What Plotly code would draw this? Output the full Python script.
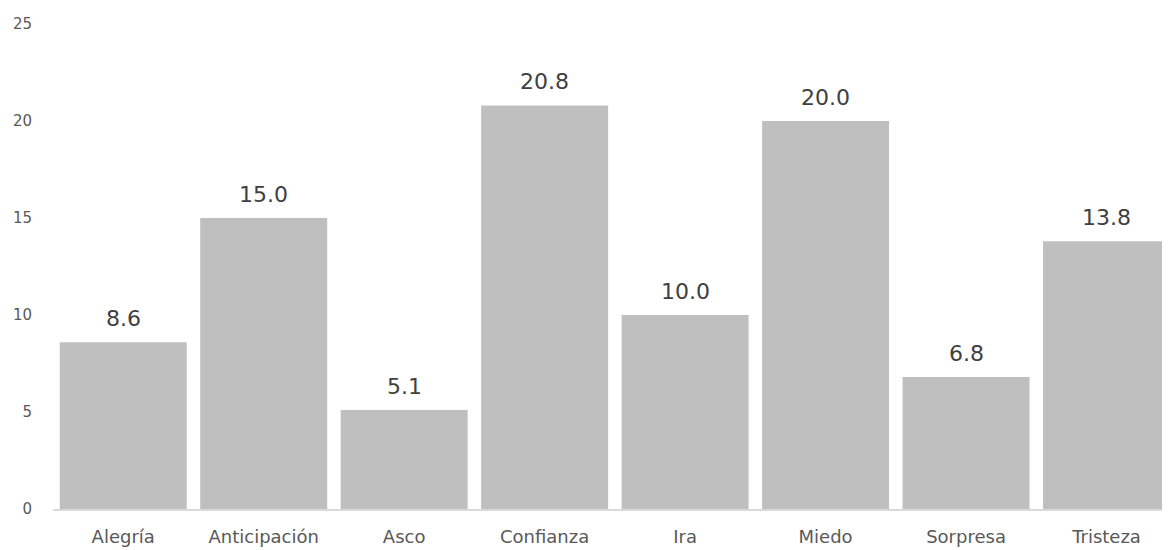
import plotly.graph_objects as go

categories = ["Alegría", "Anticipación", "Asco", "Confianza", "Ira", "Miedo", "Sorpresa", "Tristeza"]
values = [8.6, 15.0, 5.1, 20.8, 10.0, 20.0, 6.8, 13.8]
labels = ["8.6", "15.0", "5.1", "20.8", "10.0", "20.0", "6.8", "13.8"]
y_ticks = [0, 5, 10, 15, 20, 25]

fig = go.Figure()
fig.add_trace(go.Bar(
    x=categories, y=values,
    marker=dict(color="#bfbfbf", line=dict(width=0)),
    hoverinfo="x+y",
))

for c, v, t in zip(categories, values, labels):
    fig.add_annotation(x=c, y=v, text=t, showarrow=False, yanchor="bottom",
                       yshift=9, font=dict(family="DejaVu Sans, sans-serif", size=22, color="#404040"))

# page body has an 8px default margin, so the figure is sized to fill the remaining window
fig.update_layout(
    width=1162, height=542,
    margin=dict(l=45, r=0, t=16, b=41),
    paper_bgcolor="white", plot_bgcolor="white",
    bargap=0.096,
    showlegend=False,
    font=dict(family="DejaVu Sans, sans-serif", color="#595959"),
    xaxis=dict(
        range=[-0.5, 7.452],
        showgrid=False, showline=True, linecolor="#d9d9d9", linewidth=1.5,
        ticks="", tickfont=dict(size=18, color="#595959"),
        ticklabelstandoff=11,
    ),
    yaxis=dict(
        range=[0, 25], tickvals=y_ticks, showgrid=False, zeroline=False,
        showline=False, ticks="", tickfont=dict(size=15, color="#595959"),
        ticklabelposition="outside", ticklabelstandoff=20,
    ),
)

fig.write_html("out.html")
